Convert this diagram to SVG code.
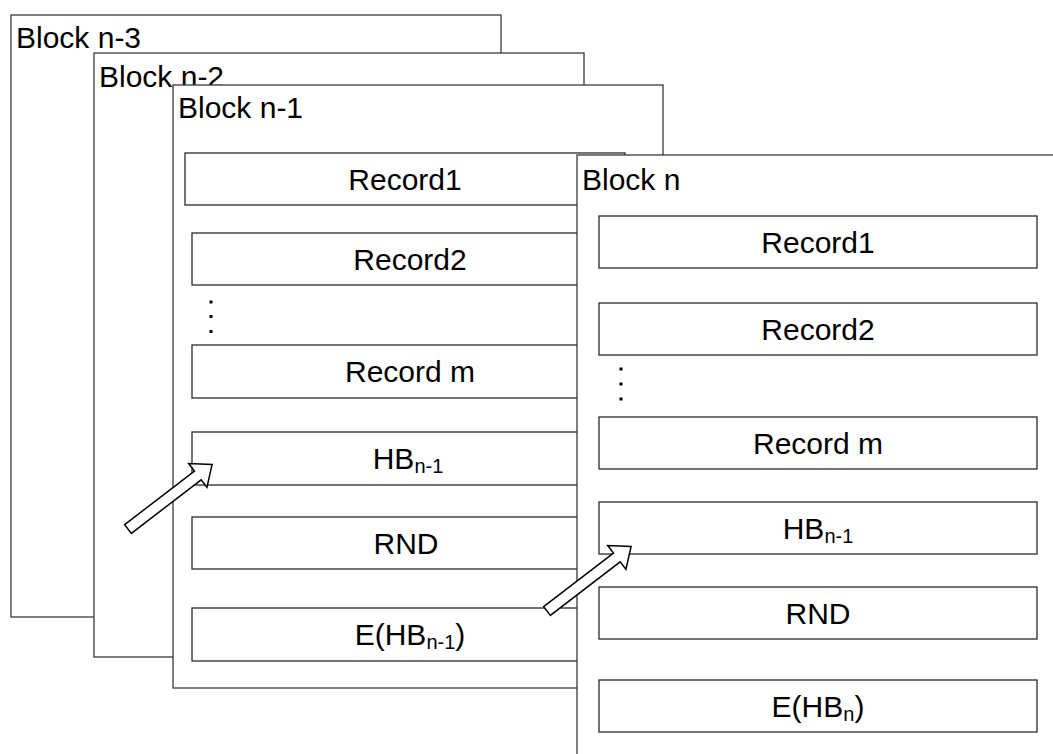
<svg xmlns="http://www.w3.org/2000/svg" width="1053" height="754" viewBox="0 0 1053 754">
  <style>
    .blk { fill: #ffffff; stroke: #3a3a3a; stroke-width: 1.3; }
    .rec { fill: #ffffff; stroke: #2a2a2a; stroke-width: 1.3; }
    .arrow { fill: #ffffff; stroke: #000000; stroke-width: 1.5; stroke-linejoin: miter; }
    text { font-family: "Liberation Sans", Arial, sans-serif; fill: #000000; }
    .title { font-size: 30px; }
    .lbl { font-size: 30px; text-anchor: middle; }
    .sub { font-size: 20px; }
    .dot { fill: #000000; }
  </style>
  <defs>
    <!-- hollow block arrow, pointing along +x from its tail centre -->
    <polygon id="hollowArrow" points="0,-5.5 88,-5.5 88,-15 106,0 88,15 88,5.5 0,5.5"/>
  </defs>
  <rect width="1053" height="754" fill="#ffffff"/>

  <g id="block-n-3">
    <rect class="blk" x="11" y="15" width="490" height="602"/>
    <text class="title" x="16" y="48">Block n-3</text>
  </g>

  <g id="block-n-2">
    <rect class="blk" x="94" y="53" width="490" height="604"/>
    <text class="title" x="99" y="87">Block n-2</text>
  </g>

  <g id="block-n-1">
    <rect class="blk" x="173" y="85" width="490" height="603"/>
    <text class="title" x="178" y="118">Block n-1</text>
    <rect class="rec" x="185" y="153" width="440" height="52"/>
    <text class="lbl" x="405" y="190">Record1</text>
    <rect class="rec" x="192" y="233" width="436" height="52"/>
    <text class="lbl" x="410" y="270">Record2</text>
    <rect class="dot" x="209.5" y="300.5" width="3" height="3"/>
    <rect class="dot" x="209.5" y="315" width="3" height="3"/>
    <rect class="dot" x="209.5" y="330" width="3" height="3"/>
    <rect class="rec" x="192" y="345" width="436" height="53"/>
    <text class="lbl" x="410" y="382">Record m</text>
    <rect class="rec" x="192" y="432" width="436" height="53"/>
    <text class="lbl" x="408" y="469">HB<tspan class="sub" dy="4">n-1</tspan></text>
    <rect class="rec" x="192" y="517" width="436" height="52"/>
    <text class="lbl" x="406" y="554">RND</text>
    <rect class="rec" x="192" y="608" width="436" height="53"/>
    <text class="lbl" x="410" y="645">E(HB<tspan class="sub" dy="4">n-1</tspan><tspan dy="-4">)</tspan></text>
  </g>

  <g id="connectors-back">
    <use href="#hollowArrow" class="arrow" transform="translate(128,529) rotate(-37.5)"/>
  </g>

  <g id="block-n">
    <rect class="blk" x="577" y="155" width="500" height="620"/>
    <text class="title" x="582" y="190">Block n</text>
    <rect class="rec" x="599" y="216" width="438" height="52"/>
    <text class="lbl" x="818" y="253">Record1</text>
    <rect class="rec" x="599" y="303" width="438" height="52"/>
    <text class="lbl" x="818" y="340">Record2</text>
    <rect class="dot" x="619.5" y="367.5" width="3" height="3"/>
    <rect class="dot" x="619.5" y="382.5" width="3" height="3"/>
    <rect class="dot" x="619.5" y="397.5" width="3" height="3"/>
    <rect class="rec" x="599" y="417" width="438" height="52"/>
    <text class="lbl" x="818" y="454">Record m</text>
    <rect class="rec" x="599" y="502" width="438" height="52"/>
    <text class="lbl" x="818" y="539">HB<tspan class="sub" dy="4">n-1</tspan></text>
    <rect class="rec" x="599" y="587" width="438" height="52"/>
    <text class="lbl" x="818" y="624">RND</text>
    <rect class="rec" x="599" y="680" width="438" height="52"/>
    <text class="lbl" x="818" y="717">E(HB<tspan class="sub" dy="4">n</tspan><tspan dy="-4">)</tspan></text>
  </g>

  <g id="connectors">
    <use href="#hollowArrow" class="arrow" transform="translate(547,611) rotate(-37.5)"/>
  </g>
</svg>
